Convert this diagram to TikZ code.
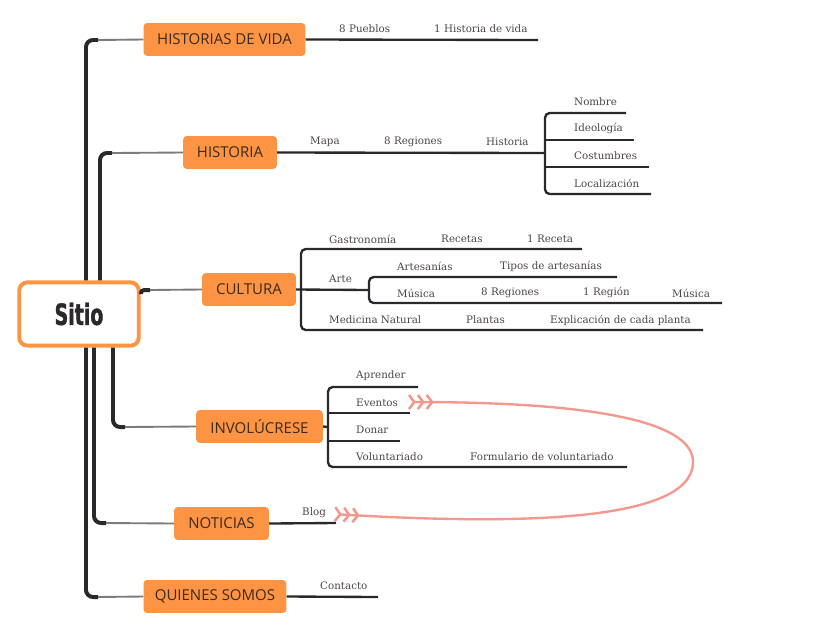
\documentclass[tikz,border=0pt]{standalone}
\usepackage{fontspec}
\setmainfont{DejaVu Serif}
\newfontfamily\topicfont{Open Sans}
\newfontfamily\rootfont{DejaVu Sans Condensed Bold}[FakeStretch=0.72, FakeBold=1.2]
\usetikzlibrary{arrows.meta}

\definecolor{topicorange}{HTML}{FD9443}
\definecolor{topictext}{HTML}{3B2A20}
\definecolor{linedark}{HTML}{2B282D}
\definecolor{twiggray}{HTML}{7B7B7B}
\definecolor{leaftext}{HTML}{4D4445}
\definecolor{relsalmon}{HTML}{F5978C}

\tikzset{
  root/.style={draw=topicorange, line width=3.4pt, fill=white, rounded corners=7pt,
    minimum width=102pt, minimum height=54pt, text=linedark,
    font=\rootfont\fontsize{25}{27}\selectfont},
  topic/.style={fill=topicorange, rounded corners=3pt, text=topictext,
    minimum height=28pt, inner sep=0pt, font=\topicfont\fontsize{12.8}{14}\selectfont},
  spine/.style={linedark, line width=3.4pt, rounded corners=6pt},
  twig/.style={twiggray, line width=1.6pt},
  leaf/.style={linedark, line width=2pt, rounded corners=4pt},
  lbl/.style={anchor=west, inner sep=0pt, text=leaftext, font=\fontsize{8.8}{10}\selectfont},
  chev/.tip={Straight Barb[reversed, length=4.5pt, width=12pt, line width=2.2pt, sep=0.6pt]},
  rel/.style={relsalmon, line width=2pt, {chev[]chev[]chev[]}-{chev[]chev[]chev[]}}
}

\begin{document}
\begin{tikzpicture}[x=0.03cm, y=-0.03cm]
    \useasboundingbox (0,0) rectangle (836,630);

    % Main topics
    \node[root] (sitio) at (79,314) {Sitio};
    \node[topic, minimum width=138pt] (hv) at (224.5,39.5) {HISTORIAS DE VIDA};
    \node[topic, minimum width=80pt] (hist) at (230,152.5) {HISTORIA};
    \node[topic, minimum width=80pt] (cult) at (249,289.5) {CULTURA};
    \node[topic, minimum width=108pt] (invol) at (259.5,426.5) {INVOLÚCRESE};
    \node[topic, minimum width=81pt] (noti) at (221.5,523.5) {NOTICIAS};
    \node[topic, minimum width=122pt] (quien) at (215,596.5) {QUIENES SOMOS};

    % Branches from Sitio
    \coordinate (hvbend) at (98,40);
    \coordinate (histbend) at (112,153);
    \coordinate (cultbend) at (150,290);
    \coordinate (involbend) at (125,427);
    \coordinate (notibend) at (106,523);
    \coordinate (quienbend) at (98,597);
    \draw[spine] (sitio.north -| 86,0) |- (hvbend);
    \draw[twig] (hvbend) -- (hv.west);
    \draw[spine] (sitio.north -| 100,0) |- (histbend);
    \draw[twig] (histbend) -- (hist.west);
    \draw[spine, rounded corners=3pt] (sitio.east |- 0,294) |- (cultbend);
    \draw[twig] (cultbend) -- (cult.west);
    \draw[spine] (sitio.south -| 113,0) |- (involbend);
    \draw[twig] (involbend) -- (invol.west);
    \draw[spine] (sitio.south -| 94,0) |- (notibend);
    \draw[twig] (notibend) -- (noti.west);
    \draw[spine] (sitio.south -| 86,0) |- (quienbend);
    \draw[twig] (quienbend) -- (quien.west);

    % HISTORIAS DE VIDA
    \draw[leaf] (hv.east) -- (538,40);
    \node[lbl] (pueblos) at (339,29) {8 Pueblos};
    \node[lbl] (histvida) at (434,29) {1 Historia de vida};

    % HISTORIA
    \draw[leaf] (hist.east) -- (545,153);
    \draw[leaf] (626,113) -| (545,194) -- (651,194);
    \draw[leaf] (545,140) -- (634,140);
    \draw[leaf] (545,167) -- (649,167);
    \node[lbl] (mapa) at (310,142) {Mapa};
    \node[lbl] (regiones) at (384,142) {8 Regiones};
    \node[lbl] (historia) at (486,142) {Historia};
    \node[lbl] (nombre) at (574,102) {Nombre};
    \node[lbl] (ideologia) at (574,129) {Ideología};
    \node[lbl] (costumbres) at (574,156) {Costumbres};
    \node[lbl] (localizacion) at (574,183) {Localización};

    % CULTURA
    \draw[leaf] (cult.east) -- (369,290);
    \draw[leaf] (582,249) -| (301,330) -- (703,330);
    \draw[leaf] (617,277) -| (369,303) -- (722,303);
    \node[lbl] (gastro) at (329,239) {Gastronomía};
    \node[lbl] (recetas) at (441,239) {Recetas};
    \node[lbl] (receta) at (527,239) {1 Receta};
    \node[lbl] (arte) at (329,279) {Arte};
    \node[lbl] (artesanias) at (397,266) {Artesanías};
    \node[lbl] (tipos) at (500,266) {Tipos de artesanías};
    \node[lbl] (musica) at (397,293) {Música};
    \node[lbl] (regionesm) at (481,293) {8 Regiones};
    \node[lbl] (region) at (583,293) {1 Región};
    \node[lbl] (musicab) at (672,293) {Música};
    \node[lbl] (medicina) at (329,320) {Medicina Natural};
    \node[lbl] (plantas) at (466,320) {Plantas};
    \node[lbl] (explica) at (550,320) {Explicación de cada planta};

    % INVOLUCRESE
    \draw[leaf] (invol.east) -- (328,427);
    \draw[leaf] (418,387) -| (328,467) -- (627,467);
    \draw[leaf] (328,413) -- (410,413);
    \draw[leaf] (328,441) -- (400,441);
    \node[lbl] (aprender) at (356,376) {Aprender};
    \node[lbl] (eventos) at (356,403) {Eventos};
    \node[lbl] (donar) at (356,430) {Donar};
    \node[lbl] (volunt) at (356,457) {Voluntariado};
    \node[lbl] (formulario) at (470,457) {Formulario de voluntariado};

    % NOTICIAS and QUIENES SOMOS
    \draw[leaf] (noti.east) -- (336,523);
    \node[lbl] (blog) at (302,513) {Blog};
    \draw[leaf] (quien.east) -- (378,597);
    \node[lbl] (contacto) at (320,586) {Contacto};

    % Relationship Blog -> Eventos
    \coordinate (blogtip) at (333,514);
    \coordinate (relright) at (693,462);
    \coordinate (evtip) at (407,402);
    \draw[rel] (blogtip) .. controls (500,524) and (693,525) .. (relright)
        .. controls (693,415) and (560,402) .. (evtip);
\end{tikzpicture}
\end{document}
